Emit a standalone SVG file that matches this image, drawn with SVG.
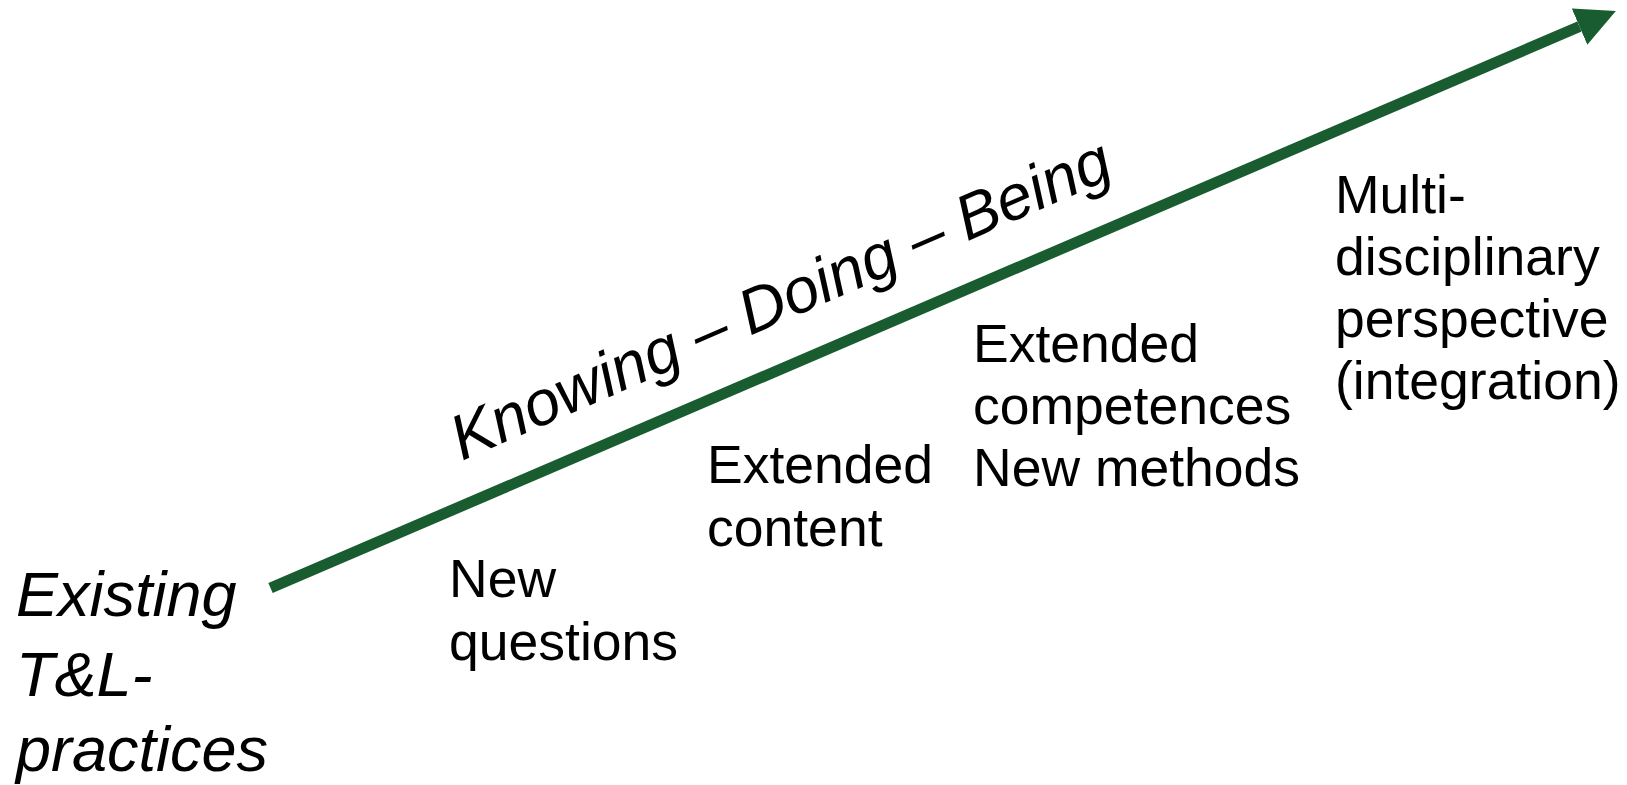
<svg xmlns="http://www.w3.org/2000/svg" width="1627" height="785" viewBox="0 0 1627 785">
<style>
text{font-family:"Liberation Sans",Arial,sans-serif;fill:#000}
.n{font-size:53.5px}
.i{font-size:63px;font-style:italic}
.t{font-size:63.5px;font-style:italic}
.arr{stroke:#185c30;stroke-width:11;fill:none}
</style>
<defs>
<marker id="ah" markerUnits="userSpaceOnUse" markerWidth="40" markerHeight="40" viewBox="0 -18 36 36" refX="0" refY="0" orient="auto">
<path d="M0,-17.75 L35.6,0 L0,17.75 Z" fill="#185c30"/>
</marker>
</defs>
<rect width="1627" height="785" fill="#fff"/>
<g id="connectors">
<line class="arr" x1="270.5" y1="588" x2="1579.5" y2="26.5" marker-end="url(#ah)"/>
</g>
<g id="axis-label">
<text class="t" x="462" y="461" transform="rotate(-23.5 462 461)">Knowing – Doing – Being</text>
</g>
<g id="existing">
<text class="i"><tspan x="16" y="616">Existing</tspan><tspan x="16" y="696">T&amp;L-</tspan><tspan x="16" y="771">practices</tspan></text>
</g>
<g id="new-questions">
<text class="n"><tspan x="449" y="597">New</tspan><tspan x="449" y="660">questions</tspan></text>
</g>
<g id="extended-content">
<text class="n"><tspan x="707" y="483">Extended</tspan><tspan x="707" y="546">content</tspan></text>
</g>
<g id="extended-competences">
<text class="n"><tspan x="973" y="362">Extended</tspan><tspan x="973" y="424">competences</tspan><tspan x="973" y="486">New methods</tspan></text>
</g>
<g id="multidisciplinary">
<text class="n"><tspan x="1335" y="213">Multi-</tspan><tspan x="1335" y="275">disciplinary</tspan><tspan x="1335" y="337">perspective</tspan><tspan x="1335" y="399">(integration)</tspan></text>
</g>
</svg>
